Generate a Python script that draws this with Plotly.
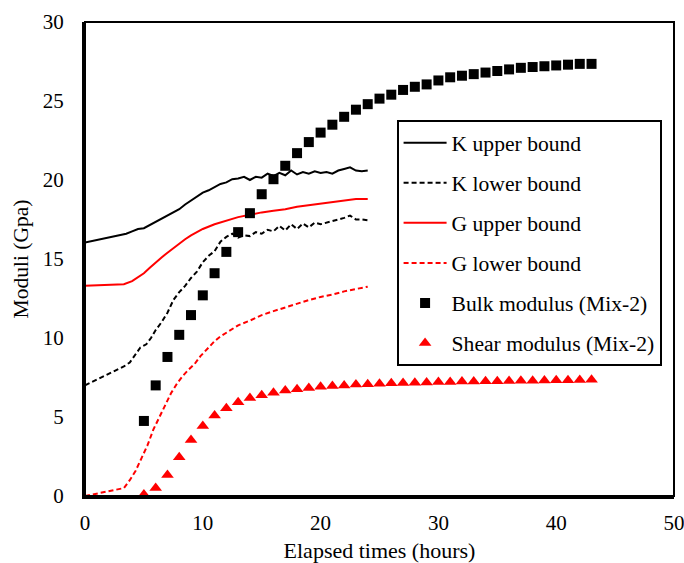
import plotly.graph_objects as go

# ---- data ----
k_up_x = [0, 3.5, 4.0, 4.5, 5.0, 5.5, 6.0, 6.5, 7.0, 7.5, 8.0, 8.5, 9.0, 9.5, 10.0, 10.5, 11.0, 11.5, 12.0,
          12.5, 13.0, 13.5, 14.0, 14.5, 15.0, 15.5, 16.0, 16.5, 17.0, 17.5, 18.0, 18.5, 19.0, 19.5, 20.0,
          20.5, 21.0, 21.5, 22.0, 22.5, 23.0, 23.5, 24.0]
k_up_y = [16.05, 16.6, 16.75, 16.9, 16.95, 17.15, 17.3, 17.55, 17.7, 17.95, 18.15, 18.45, 18.7, 18.95, 19.2,
          19.35, 19.55, 19.75, 19.85, 20.05, 20.1, 20.2, 20.0, 20.2, 20.15, 20.4, 20.25, 20.45, 20.3, 20.6,
          20.35, 20.5, 20.4, 20.55, 20.45, 20.5, 20.4, 20.6, 20.7, 20.8, 20.6, 20.55, 20.6]

k_lo_x = [0, 3.3, 3.8, 4.3, 4.7, 5.2, 5.6, 6.0, 6.5, 7.0, 7.5, 8.0, 8.5, 9.0, 9.5, 10.0, 10.5, 11.0, 11.5,
          12.0, 12.5, 13.0, 13.5, 14.0, 14.5, 15.0, 15.5, 16.0, 16.5, 17.0, 17.5, 18.0, 18.5, 19.0, 19.5,
          20.0, 20.5, 21.0, 21.5, 22.0, 22.5, 23.0, 23.5, 24.0]
k_lo_y = [7.0, 8.2, 8.45, 9.0, 9.4, 9.6, 10.0, 10.5, 11.0, 11.6, 12.4, 12.9, 13.3, 13.8, 14.2, 14.8, 15.2,
          15.5, 16.1, 16.4, 16.6, 16.35, 16.5, 16.45, 16.7, 16.6, 16.85, 16.75, 17.1, 16.8, 17.2, 16.9,
          17.25, 17.0, 17.3, 17.2, 17.3, 17.4, 17.5, 17.6, 17.75, 17.5, 17.5, 17.45]

g_up_x = [0, 3.3, 4.0, 4.5, 5.0, 5.5, 6.0, 6.5, 7.0, 7.5, 8.0, 8.5, 9.0, 9.5, 10.0, 11.0, 12.0, 13.0, 14.0,
          15.0, 16.0, 17.0, 18.0, 19.0, 20.0, 21.0, 22.0, 23.0, 24.0]
g_up_y = [13.3, 13.4, 13.6, 13.85, 14.1, 14.45, 14.8, 15.1, 15.4, 15.7, 16.0, 16.25, 16.5, 16.7, 16.9, 17.2,
          17.45, 17.65, 17.8, 17.95, 18.05, 18.15, 18.3, 18.4, 18.5, 18.6, 18.7, 18.8, 18.8]

g_lo_x = [0, 3.3, 3.8, 4.3, 4.8, 5.3, 5.8, 6.3, 6.8, 7.3, 7.8, 8.3, 8.8, 9.3, 9.8, 10.5, 11.0, 11.5, 12.0,
          12.5, 13.0, 14.0, 15.0, 16.0, 17.0, 18.0, 19.0, 20.0, 21.0, 22.0, 23.0, 23.5, 24.0]
g_lo_y = [0.0, 0.5, 1.0, 1.6, 2.4, 3.2, 4.2, 5.0, 5.8, 6.5, 7.1, 7.6, 8.0, 8.35, 8.85, 9.4, 9.8, 10.1, 10.35,
          10.6, 10.8, 11.1, 11.45, 11.7, 11.95, 12.2, 12.4, 12.6, 12.75, 12.95, 13.1, 13.2, 13.25]

mix_hours = list(range(5, 44))
bulk_mix2 = [4.75, 7.0, 8.8, 10.2, 11.45, 12.7, 14.1, 15.45, 16.7, 17.9, 19.1, 20.05, 20.9, 21.7, 22.4,
             23.0, 23.5, 24.0, 24.45, 24.8, 25.15, 25.4, 25.7, 25.9, 26.05, 26.3, 26.5, 26.6, 26.7,
             26.8, 26.9, 27.0, 27.1, 27.15, 27.2, 27.25, 27.3, 27.35, 27.35]
shear_mix2 = [0.1, 0.5, 1.33, 2.45, 3.54, 4.43, 5.1, 5.55, 5.93, 6.2, 6.37, 6.54, 6.67, 6.75, 6.84, 6.92,
              6.96, 7.0, 7.05, 7.08, 7.1, 7.13, 7.15, 7.17, 7.19, 7.21, 7.22, 7.24, 7.25, 7.26, 7.27,
              7.28, 7.29, 7.3, 7.31, 7.32, 7.33, 7.34, 7.35]

x_ticks = [0, 10, 20, 30, 40, 50]
y_ticks = [0, 5, 10, 15, 20, 25, 30]

FONT = "Liberation Serif"
RED = "#ff0000"
DASH = "5px,3px"

fig = go.Figure()
fig.add_trace(go.Scatter(x=k_up_x, y=k_up_y, mode="lines", name="K upper bound", legendgroup="a",
                         line=dict(color="black", width=2)))
fig.add_trace(go.Scatter(x=k_lo_x, y=k_lo_y, mode="lines", name="K lower bound", legendgroup="b",
                         line=dict(color="black", width=2, dash=DASH)))
fig.add_trace(go.Scatter(x=g_up_x, y=g_up_y, mode="lines", name="G upper bound", legendgroup="c",
                         line=dict(color=RED, width=2)))
fig.add_trace(go.Scatter(x=g_lo_x, y=g_lo_y, mode="lines", name="G lower bound", legendgroup="d",
                         line=dict(color=RED, width=2, dash=DASH)))
fig.add_trace(go.Scatter(x=mix_hours, y=bulk_mix2, mode="markers", name="Bulk modulus (Mix-2)", legendgroup="e",
                         marker=dict(symbol="square", color="black", size=10)))
fig.add_trace(go.Scatter(x=mix_hours, y=shear_mix2, mode="markers", name="Shear modulus (Mix-2)", legendgroup="f",
                         marker=dict(symbol="triangle-up", color=RED, size=11)))

fig.update_layout(
    width=684, height=563,
    margin=dict(l=85, r=10, t=22, b=67),
    paper_bgcolor="white", plot_bgcolor="white",
    font=dict(family=FONT, size=21, color="black"),
    legend=dict(x=0.529, y=0.793, xanchor="left", yanchor="top",
                bordercolor="black", borderwidth=2, bgcolor="white",
                traceorder="grouped", tracegroupgap=9, itemwidth=43,
                font=dict(family=FONT, size=21.6, color="black")),
    xaxis=dict(range=[0, 50], tickvals=x_ticks, showgrid=False, zeroline=False,
               showline=True, linecolor="black", linewidth=3, ticks="",
               tickfont=dict(family=FONT, size=21),
               title=dict(text="Elapsed times (hours)", font=dict(family=FONT, size=22)),
               ticklabelstandoff=6, ticklabeloverflow="allow", automargin=False),
    yaxis=dict(range=[0, 30], tickvals=y_ticks, showgrid=False, zeroline=False,
               showline=True, linecolor="black", linewidth=3, ticks="",
               tickfont=dict(family=FONT, size=21),
               title=dict(text="Moduli (Gpa)", font=dict(family=FONT, size=21.5), standoff=9),
               ticklabelstandoff=14, automargin=True),
    shapes=[dict(type="rect", xref="paper", yref="paper", x0=0, y0=0, x1=1, y1=1,
                 line=dict(color="black", width=2), layer="above")],
)

fig.write_html("out.html")
